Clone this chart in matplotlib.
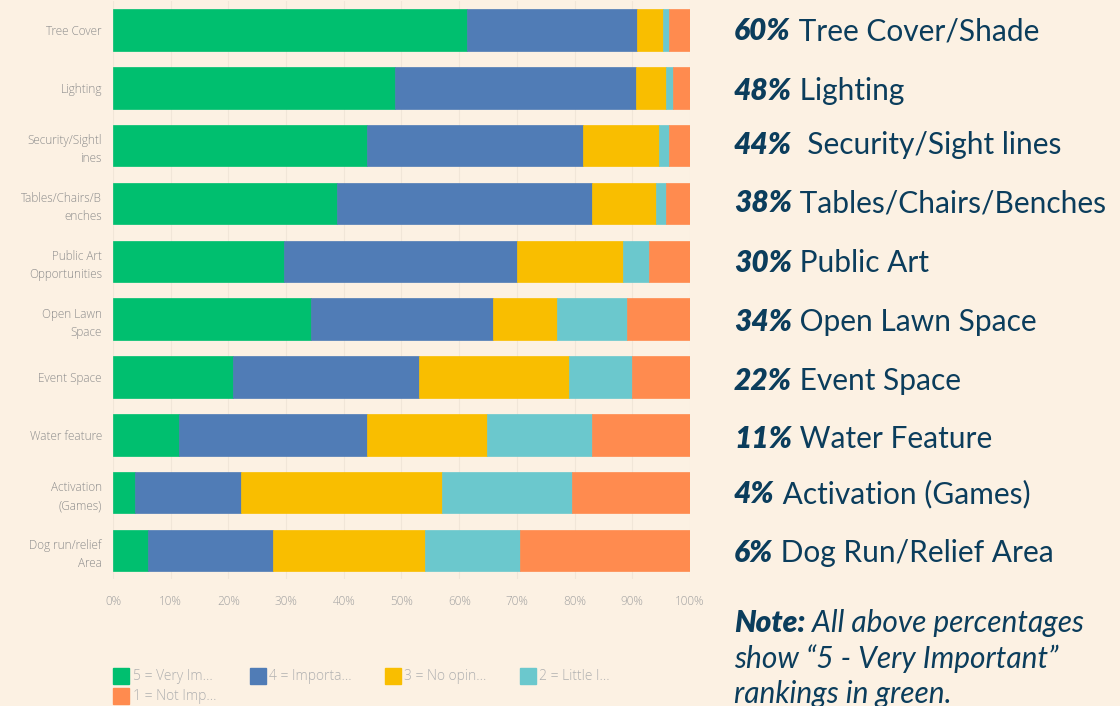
import matplotlib.pyplot as plt
from matplotlib.lines import Line2D
import numpy as np

# Survey data (percent of responses per rating)
categories = ['Tree Cover', 'Lighting', 'Security/Sightl\nines', 'Tables/Chairs/B\nenches',
              'Public Art\nOpportunities', 'Open Lawn\nSpace', 'Event Space', 'Water feature',
              'Activation\n(Games)', 'Dog run/relief\nArea']
very_important = [61.4, 48.9, 44.0, 38.9, 29.6, 34.3, 20.8, 11.4, 3.8, 6.0]
important = [29.5, 41.7, 37.4, 44.2, 40.4, 31.6, 32.2, 32.6, 18.4, 21.8]
no_opinion = [4.5, 5.2, 13.3, 11.0, 18.4, 11.0, 26.1, 20.8, 34.8, 26.2]
little_imp = [1.0, 1.3, 1.7, 1.7, 4.5, 12.1, 10.9, 18.2, 22.5, 16.5]
not_imp = [3.6, 2.9, 3.6, 4.2, 7.1, 11.0, 10.0, 17.0, 20.5, 29.5]
series_labels = ['5 = Very Im...', '4 = Importa...', '3 = No opin...', '2 = Little I...', '1 = Not Imp...']
colors = ['#00bf6f', '#507cb6', '#f9be00', '#6bc8cd', '#ff8b4f']

# Side summary text
side_pct = ['60%', '48%', '44%', '38%', '30%', '34%', '22%', '11%', '4%', '6%']
side_names = ['Tree Cover/Shade', 'Lighting', ' Security/Sight lines', 'Tables/Chairs/Benches',
              'Public Art', 'Open Lawn Space', 'Event Space', 'Water Feature',
              'Activation (Games)', 'Dog Run/Relief Area']
side_y = [31, 91, 145, 203, 263, 322, 381, 439, 494, 553]

bg = '#fcf1e3'
navy = '#0b3d5c'
W, H = 1120, 706

fig = plt.figure(figsize=(11.2, 7.06), dpi=100, facecolor=bg)
ax = fig.add_axes([113 / W, 1 - 579.4 / H, 577 / W, 578.3 / H], facecolor=bg)

data = [very_important, important, no_opinion, little_imp, not_imp]
y = np.arange(len(categories))
left = np.zeros(len(categories))
for vals, col, lab in zip(data, colors, series_labels):
    vals = np.array(vals)
    ax.barh(y, vals, left=left, height=0.72, color=col, label=lab,
            edgecolor=col, linewidth=0.5, zorder=2)
    left += vals

ax.set_xlim(0, 100)
ax.set_ylim(9.5, -0.5)
ax.set_yticks(y)
ax.set_yticklabels(categories, fontsize=8.5, color='#8c8c8c', family='Open Sans',
                   fontweight='light', linespacing=1.5)
ax.set_xticks(np.arange(0, 101, 10))
ax.set_xticklabels([f'{v}%' for v in range(0, 101, 10)], fontsize=8.5, color='#a0a0a0',
                   family='Open Sans', fontweight='light')
ax.tick_params(length=0, pad=8)
ax.tick_params(axis='x', pad=11)
ax.grid(axis='x', color='#f1e6d8', linewidth=0.8, zorder=0)
for s in ax.spines.values():
    s.set_visible(False)

# Legend (row-wise order: matplotlib fills columns first)
order = [0, 4, 1, 2, 3]
handles = [Line2D([0], [0], marker='s', linestyle='', markersize=12,
                  markerfacecolor=colors[i], markeredgecolor=colors[i]) for i in order]
leg = fig.legend(handles, [series_labels[i] for i in order], loc='upper left',
                 bbox_to_anchor=(102 / W, 1 - 657 / H), ncol=4, frameon=False,
                 handletextpad=0.3, columnspacing=2.5, labelspacing=0.35, handlelength=1.0,
                 prop={'family': 'Open Sans', 'weight': 'light', 'size': 10})
for t in leg.get_texts():
    t.set_color('#b0b0b0')

# Right-hand summary
fs = 21.5
for pct, name, yy in zip(side_pct, side_names, side_y):
    yb = 1 - (yy + 9) / H
    t = fig.text(734 / W, yb, pct, fontsize=fs, color=navy, family='Lato',
                 fontweight='heavy', style='italic', va='baseline')
    ax.annotate(' ' + name, xy=(1, yb), xycoords=(t, 'figure fraction'), fontsize=fs,
                color=navy, family='Lato', va='baseline', annotation_clip=False)

note_y = [623, 659, 694]
yb = 1 - (note_y[0] + 9) / H
t = fig.text(734 / W, yb, 'Note:', fontsize=fs, color=navy, family='Lato',
             fontweight='heavy', style='italic', va='baseline')
ax.annotate(' All above percentages', xy=(1, yb), xycoords=(t, 'figure fraction'), fontsize=fs,
            color=navy, family='Lato', style='italic', va='baseline', annotation_clip=False)
fig.text(734 / W, 1 - (note_y[1] + 9) / H, 'show \u201c5 - Very Important\u201d', fontsize=fs,
         color=navy, family='Lato', style='italic', va='baseline')
fig.text(734 / W, 1 - (note_y[2] + 9) / H, 'rankings in green.', fontsize=fs,
         color=navy, family='Lato', style='italic', va='baseline')

fig.savefig('out.png', dpi=100, facecolor=bg)
